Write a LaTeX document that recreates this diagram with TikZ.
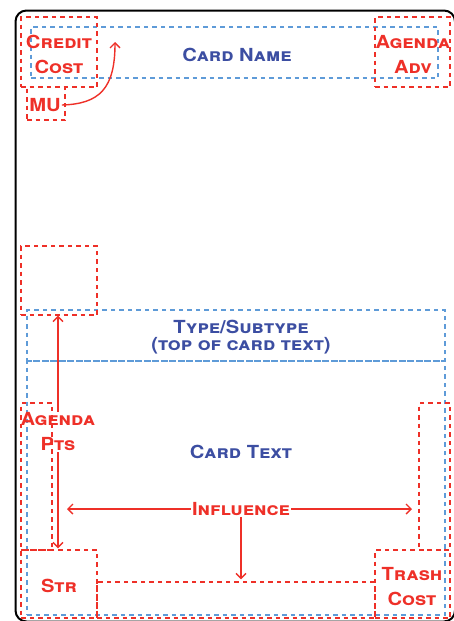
\documentclass[tikz,border=0pt]{standalone}
\usepackage{fontspec}
\setmainfont{TeX Gyre Heros}[FakeStretch=1.12]
\usetikzlibrary{arrows.meta}
\definecolor{cred}{HTML}{EE3028}
\definecolor{cblue}{HTML}{3C4EA2}
\definecolor{lblue}{HTML}{5E9BD8}
\tikzset{
  rbox/.style={draw=cred, line width=1.4pt, dash pattern=on 4.5pt off 4pt, inner sep=0pt, rectangle},
  bbox/.style={draw=lblue, line width=1.4pt, dash pattern=on 4.5pt off 4pt, inner sep=0pt, rectangle},
  rlab/.style={text=cred, font=\fontsize{18}{25}\selectfont\bfseries\scshape, align=center, inner sep=1pt},
  blab/.style={text=cblue, font=\fontsize{18}{17}\selectfont\bfseries\scshape, align=center, inner sep=1pt},
  arr/.style={draw=cred, line width=1.4pt, -{Straight Barb[length=5pt,width=10pt]}},
}
\begin{document}
\begin{tikzpicture}[x=1pt,y=-1pt]
\useasboundingbox (0,0) rectangle (453,621);
% card border
\draw[line width=2pt, rounded corners=11pt] (15.5,10.5) rectangle (455,621.5);
% blue boxes
\node[bbox, minimum width=407pt, minimum height=51pt] (namebox) at (234.5,52.5) {};
\node[bbox, minimum width=418pt, minimum height=51pt] (typebox) at (236,335.5) {};
\node[bbox, minimum width=418pt, minimum height=254pt] (textbox) at (236,488) {};
% red boxes
\node[rbox, minimum width=76pt, minimum height=70pt] (creditbox) at (59,52) {};
\node[rbox, minimum width=38pt, minimum height=33pt] (mubox) at (46,103.5) {};
\node[rbox, minimum width=75pt, minimum height=70pt] (advbox) at (412.5,52) {};
\node[rbox, minimum width=76pt, minimum height=69pt] (emptybox) at (59,280.5) {};
\node[rbox, minimum width=31pt, minimum height=147pt] (ptsbox) at (36.5,476.5) {};
\node[rbox, minimum width=76pt, minimum height=68pt] (strbox) at (59,584) {};
\node[rbox, minimum width=278pt, minimum height=36pt] (strip) at (236,600) {};
\node[rbox, minimum width=75pt, minimum height=68pt] (trashbox) at (412.5,584) {};
\node[rbox, minimum width=31pt, minimum height=147pt] (rtall) at (434.5,476.5) {};
% labels
\node[blab] (cardname) at (237,55) {Card Name};
\node[blab] (typesub) at (241,337) {Type/Subtype\\(top of card text)};
\node[blab] (cardtext) at (241,452) {Card Text};
\node[rlab] (credit) at (59,54.5) {Credit\\Cost};
\node[rlab] (mu) at (45,105) {MU};
\node[rlab] (adv) at (413,54.5) {Agenda\\Adv};
\node[rlab] (pts) at (58,432) {Agenda\\Pts};
\node[rlab] (infl) at (241,509) {Influence};
\node[rlab] (str) at (59,586) {Str};
\node[rlab] (trash) at (412,587) {Trash\\Cost};
% arrows
\coordinate (mutip) at (115,42);
\draw[arr] (mu.east) .. controls (100,104) and (115,88) .. (mutip);
\draw[arr] (pts.north) -- (pts.north |- emptybox.south);
\draw[arr] (pts.south) -- ([yshift=1pt]pts.south |- strbox.north);
\coordinate (infltipl) at (67,509);
\coordinate (infltipr) at (412,509);
\draw[arr] (infl.west) -- (infltipl);
\draw[arr] (infl.east) -- (infltipr);
\draw[arr] (infl.south) -- ([yshift=2pt]infl.south |- strip.north);
\end{tikzpicture}
\end{document}
